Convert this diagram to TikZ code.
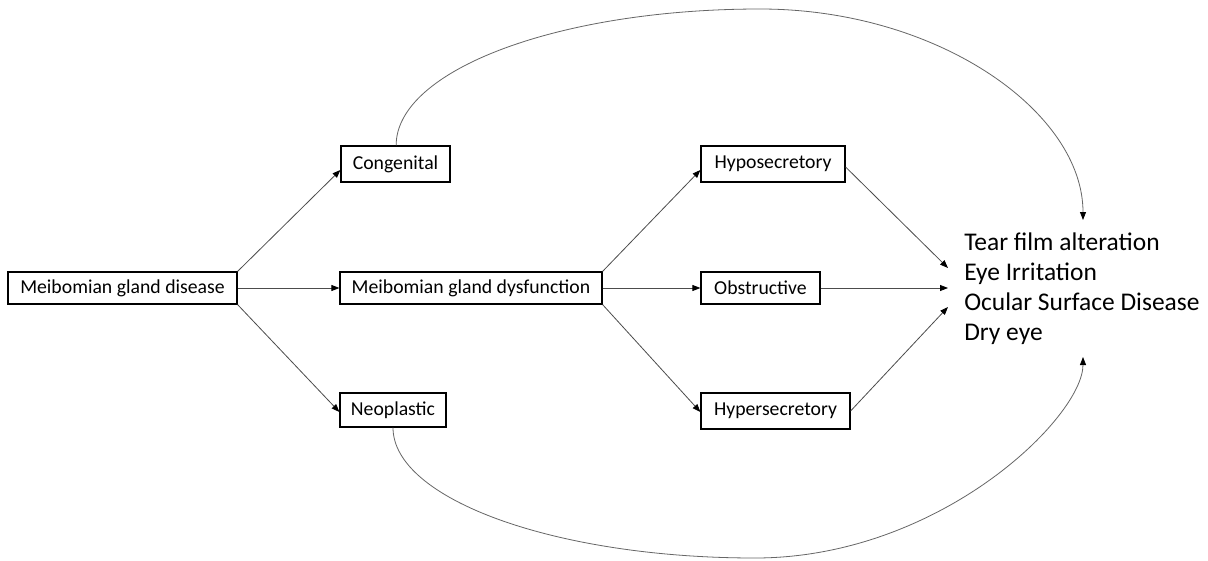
\documentclass[tikz,border=0pt]{standalone}
\usepackage{fontspec}
\setmainfont{Carlito}
\usetikzlibrary{arrows.meta}
\begin{document}
\begin{tikzpicture}[x=0.75pt,y=-0.75pt,
  box/.style={draw=black,line width=0.9pt,fill=white,inner sep=0pt,font=\fontsize{14.8pt}{17pt}\selectfont},
  conn/.style={draw=black!70,line width=0.6pt,-{Triangle[length=6pt,width=4.5pt,black]}},
  curve/.style={draw=black!60,line width=0.6pt,-{Triangle[length=6pt,width=4.5pt,black]}}]
\useasboundingbox[fill=white] (0,0) rectangle (1208,561);
\node[box,minimum width=229*0.75pt,minimum height=32*0.75pt] (d) at (122.5,288) {Meibomian gland disease};
\node[box,minimum width=109*0.75pt,minimum height=36*0.75pt] (c) at (395.5,164) {Congenital};
\node[box,minimum width=262*0.75pt,minimum height=32*0.75pt] (m) at (471,288) {Meibomian gland dysfunction};
\node[box,minimum width=106*0.75pt,minimum height=34*0.75pt] (n) at (393,410) {Neoplastic};
\node[box,minimum width=144*0.75pt,minimum height=36*0.75pt] (hypo) at (773,164) {Hyposecretory};
\node[box,minimum width=119*0.75pt,minimum height=32*0.75pt] (obs) at (760.5,288) {Obstructive};
\node[box,minimum width=149*0.75pt,minimum height=36*0.75pt] (hyper) at (775.5,411) {Hypersecretory};
\node[anchor=west,inner sep=0pt,align=left,font=\fontsize{19.1pt}{22.5pt}\selectfont] (out) at (964,289) {Tear film alteration\\Eye Irritation\\Ocular Surface Disease\\Dry eye};
\coordinate (t1) at (948,268);
\coordinate (t2) at (948,288);
\coordinate (t3) at (948,307);
\coordinate (ttop) at (1083,220);
\coordinate (tbot) at (1083,357);
\coordinate (ptop) at (760,9);
\coordinate (pbot) at (755,558);
\draw[conn] (d.north east) -- ([yshift=-4.5pt]c.west);
\draw[conn] (d.east) -- (m.west);
\draw[conn] (d.south east) -- ([yshift=-1.5pt]n.west);
\draw[conn] (m.north east) -- ([yshift=-4.5pt]hypo.west);
\draw[conn] (m.east) -- (obs.west);
\draw[conn] (m.south east) -- ([yshift=-0.75pt]hyper.west);
\draw[conn] ([yshift=-2.25pt]hypo.east) -- (t1);
\draw[conn] (obs.east) -- (t2);
\draw[conn] (hyper.east) -- (t3);
\draw[curve] ([xshift=0.5pt]c.north) .. controls (396,70) and (559,9) .. (ptop)
  .. controls (938,9) and (1083,112) .. (ttop);
\draw[curve] (n.south) .. controls (393,499) and (555,558) .. (pbot)
  .. controls (940,558) and (1083,417) .. (tbot);
\end{tikzpicture}
\end{document}
